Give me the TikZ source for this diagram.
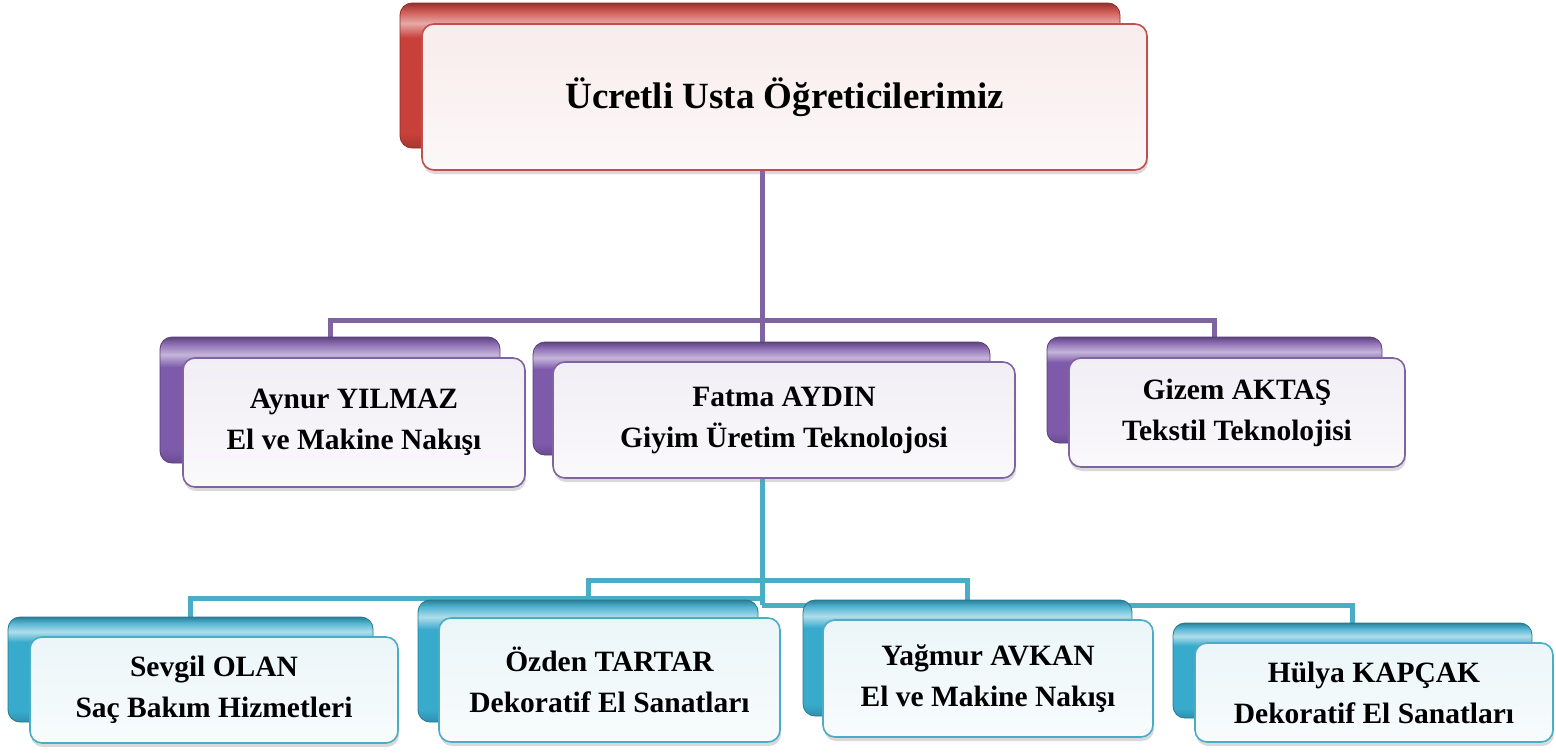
\documentclass[tikz,border=0pt]{standalone}
\usepackage{fontspec}
\setmainfont{Liberation Serif}
\usetikzlibrary{shadows,backgrounds}
\definecolor{cred}{HTML}{C0504D}
\definecolor{cpur}{HTML}{8064A2}
\definecolor{ctea}{HTML}{4BACC6}
\definecolor{redbase}{HTML}{C8403A}
\definecolor{purbase}{HTML}{7D5AAA}
\definecolor{teabase}{HTML}{38AACC}
\pgfdeclareverticalshading{redback}{100bp}{color(0bp)=(redbase!80!black); color(25bp)=(redbase!85!black); color(30bp)=(redbase); color(63bp)=(redbase); color(68bp)=(redbase!45!white); color(72bp)=(redbase!85!white); color(75bp)=(redbase!75!black); color(100bp)=(redbase!75!black)}
\pgfdeclareverticalshading{purback}{100bp}{color(0bp)=(purbase!80!black); color(25bp)=(purbase!85!black); color(30bp)=(purbase); color(63bp)=(purbase); color(68bp)=(purbase!45!white); color(72bp)=(purbase!85!white); color(75bp)=(purbase!75!black); color(100bp)=(purbase!75!black)}
\pgfdeclareverticalshading{teaback}{100bp}{color(0bp)=(teabase!80!black); color(25bp)=(teabase!85!black); color(30bp)=(teabase); color(63bp)=(teabase); color(68bp)=(teabase!40!white); color(72bp)=(teabase!85!white); color(75bp)=(teabase!75!black); color(100bp)=(teabase!75!black)}
\tikzset{
  backbox/.style={rounded corners=12pt, inner sep=0pt, outer sep=0pt,
    line width=0.8pt, shading=#1},
  frontbox/.style={rounded corners=12pt, inner sep=0pt, outer sep=0pt,
    draw=#1, line width=1.6pt,
    top color=#1!11!white, bottom color=#1!4!white,
    drop shadow={opacity=0.3, shadow xshift=1pt, shadow yshift=-4pt},
    align=center, font=\bfseries\fontsize{29.5}{41}\selectfont},
  conn/.style={draw=#1, line width=5pt, line join=miter}
}
\begin{document}
\begin{tikzpicture}[x=1pt,y=-1pt]
\useasboundingbox (0,0) rectangle (1556,755);
% top
\node[backbox=redback, draw=redbase!70!black, minimum width=720pt, minimum height=145pt] (tb) at (760,75.5) {};
\node[frontbox=cred, minimum width=725pt, minimum height=146pt,
      font=\bfseries\fontsize{37}{44}\selectfont] (t) at (784.5,97) {Ücretli Usta Öğreticilerimiz};
% middle row
\node[backbox=purback, draw=purbase!70!black, minimum width=340pt, minimum height=126pt] (ab) at (330,400) {};
\node[frontbox=cpur, minimum width=342pt, minimum height=129pt] (a) at (354,422.5) {Aynur YILMAZ\\El ve Makine Nakışı};
\node[backbox=purback, draw=purbase!70!black, minimum width=457pt, minimum height=113pt] (fb) at (761.5,398.5) {};
\node[frontbox=cpur, minimum width=462pt, minimum height=116pt] (f) at (784,420) {Fatma AYDIN\\Giyim Üretim Teknolojosi};
\node[backbox=purback, draw=purbase!70!black, minimum width=335pt, minimum height=106pt] (gb) at (1214.5,390) {};
\node[frontbox=cpur, minimum width=336pt, minimum height=109pt] (g) at (1237,412.5) {Gizem AKTAŞ\\Tekstil Teknolojisi};
% bottom row
\node[backbox=teaback, draw=teabase!70!black, minimum width=365pt, minimum height=105pt] (sb) at (190.5,669.5) {};
\node[frontbox=ctea, minimum width=368pt, minimum height=106pt] (s) at (214,690) {Sevgil OLAN\\Saç Bakım Hizmetleri};
\node[backbox=teaback, draw=teabase!70!black, minimum width=340pt, minimum height=122pt] (ob) at (588,661) {};
\node[frontbox=ctea, minimum width=341pt, minimum height=124pt] (o) at (609.5,680) {Özden TARTAR\\Dekoratif El Sanatları};
\node[backbox=teaback, draw=teabase!70!black, minimum width=329pt, minimum height=116pt] (yb) at (967.5,658) {};
\node[frontbox=ctea, minimum width=330pt, minimum height=117pt] (y) at (988,678.5) {Yağmur AVKAN\\El ve Makine Nakışı};
\node[backbox=teaback, draw=teabase!70!black, minimum width=359pt, minimum height=95pt] (hb) at (1352.5,670.5) {};
\node[frontbox=ctea, minimum width=358pt, minimum height=99pt] (h) at (1374,692.5) {Hülya KAPÇAK\\Dekoratif El Sanatları};
% connectors
\coordinate (pj) at (762,320);
\coordinate (tj1) at (762,580);
\coordinate (tj3) at (762,598);
\coordinate (tj2) at (762,605);
\begin{pgfonlayer}{background}
\draw[conn=cpur] (tb.south -| pj) -- (fb.north -| pj);
\draw[conn=cpur] (pj) -| (ab.north);
\draw[conn=cpur] (pj) -| (gb.north);
\draw[conn=ctea] (fb.south -| tj2) -- (tj2);
\draw[conn=ctea] (tj1) -| (ob.north);
\draw[conn=ctea] (tj1) -| (yb.north);
\draw[conn=ctea] (tj3) -| (sb.north);
\draw[conn=ctea] (tj2) -| (hb.north);
\end{pgfonlayer}
\end{tikzpicture}
\end{document}
